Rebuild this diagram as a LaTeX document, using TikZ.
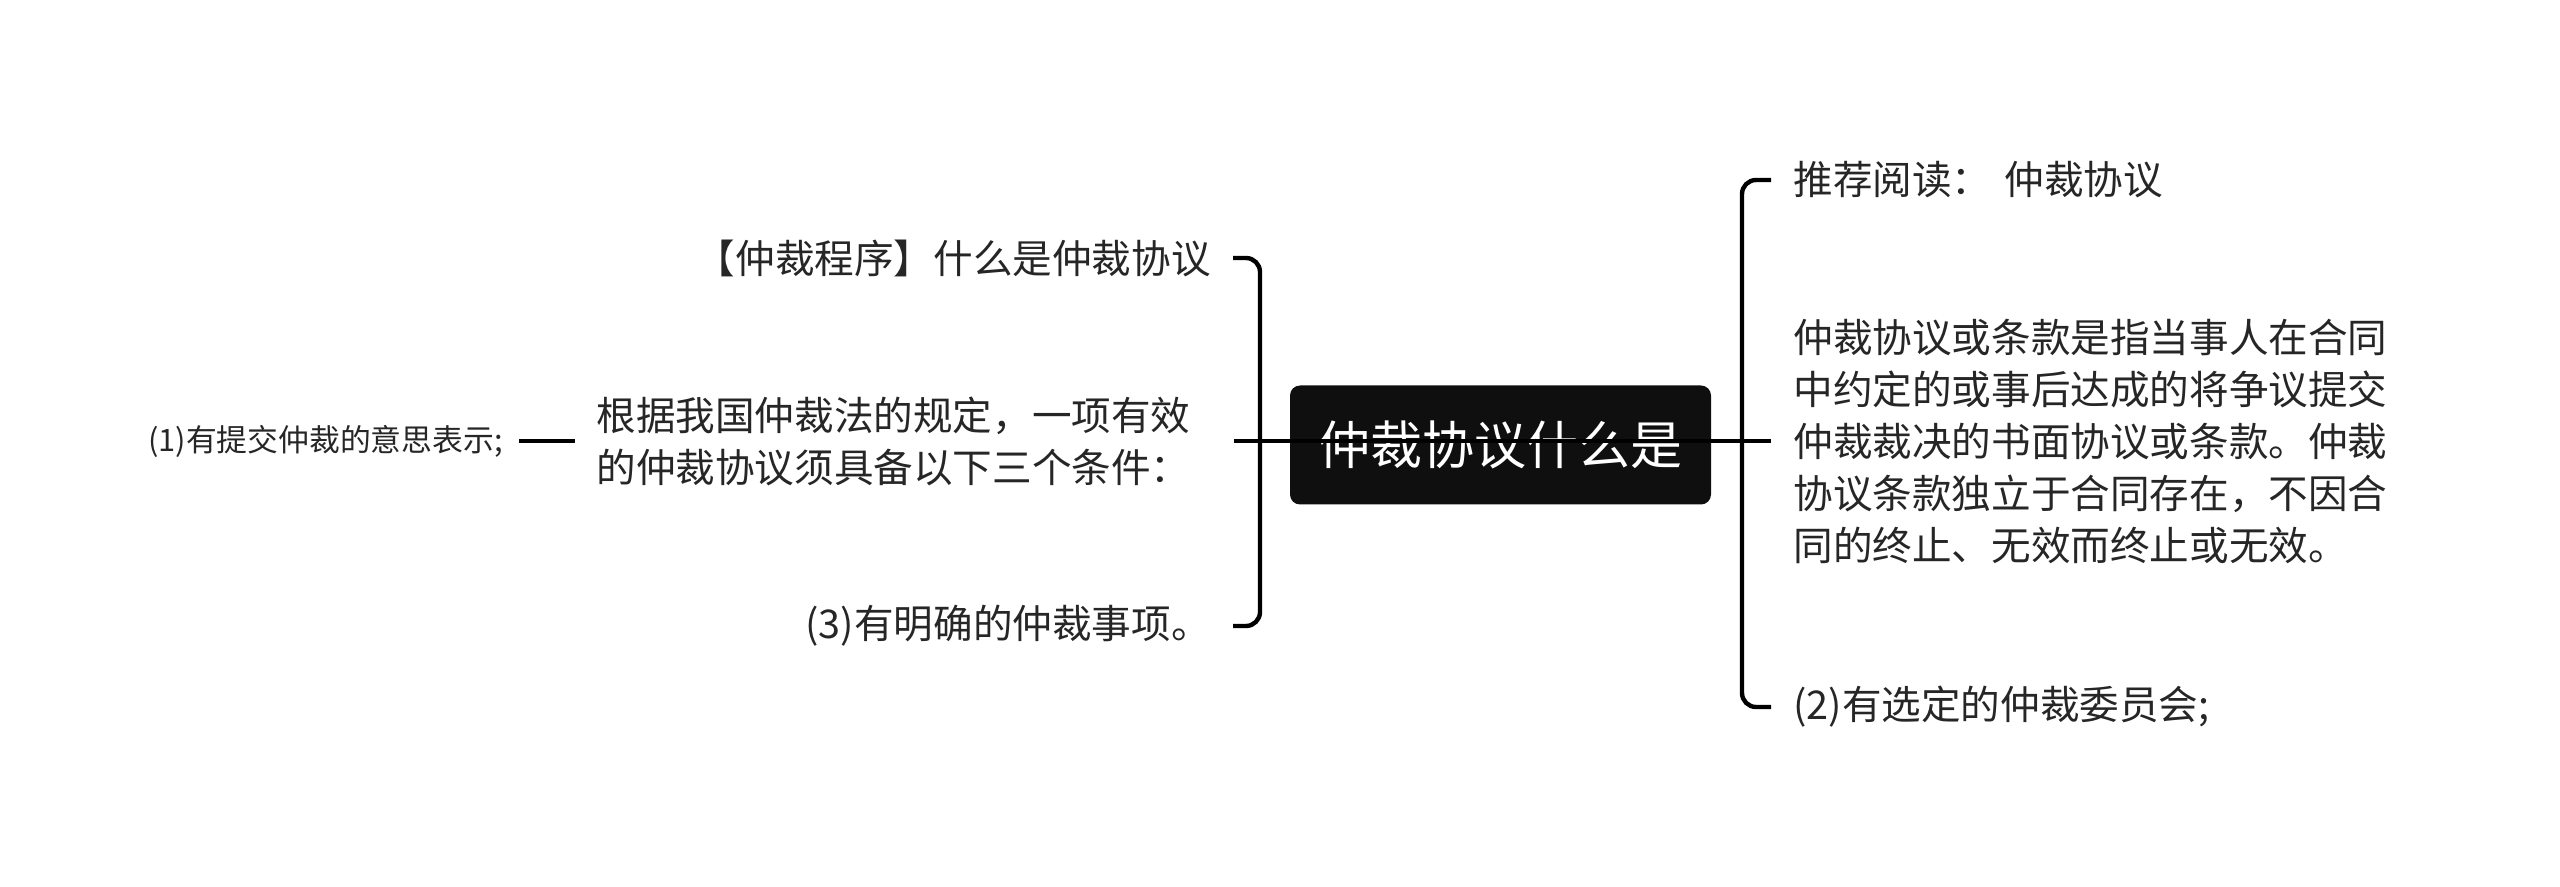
\documentclass[tikz,border=0pt]{standalone}
\usepackage{fontspec}
\setmainfont{Noto Sans CJK SC}
\usetikzlibrary{positioning}
\definecolor{inkgray}{HTML}{262626}
\definecolor{rootfill}{HTML}{0F0F0F}

\begin{document}
\begin{tikzpicture}[
    x=0.5pt, y=-0.5pt,
    topic/.style={inner sep=0pt, inner xsep=11pt, text=inkgray, font=\fontsize{19.8}{26}\selectfont, align=left},
    small/.style={inner sep=0pt, inner xsep=8pt, text=inkgray, font=\fontsize{15.4}{20}\selectfont},
    root/.style={rectangle, fill=rootfill, rounded corners=5pt, minimum width=210.5pt, minimum height=59.5pt, text=white, font=\fontsize{26}{30}\selectfont},
    link/.style={draw=black, line width=2.2pt},
    bracket/.style={link, rounded corners=7pt}
]
    \useasboundingbox (0,0) rectangle (2560,887);

    \node[root] (main) at (1500.5,445) {仲裁协议什么是};

    % left branch
    \node[topic, anchor=east] (proc) at (1233,258) {【仲裁程序】什么是仲裁协议};
    \node[topic, anchor=west, text width=308pt, inner xsep=10.5pt] (cond) at (575,441) {根据我国仲裁法的规定，一项有效\\的仲裁协议须具备以下三个条件：};
    \node[topic, anchor=east] (item3) at (1233,626) {(3)有明确的仲裁事项。};
    \node[small, anchor=east] (item1) at (519,441) {(1)有提交仲裁的意思表示;};

    % right branch
    \node[topic, anchor=west] (read) at (1771,180) {推荐阅读：\hspace{6.5pt}仲裁协议};
    \node[topic, anchor=west] (defn) at (1771,441) {仲裁协议或条款是指当事人在合同\\中约定的或事后达成的将争议提交\\仲裁裁决的书面协议或条款。仲裁\\协议条款独立于合同存在，不因合\\同的终止、无效而终止或无效。};
    \node[topic, anchor=west] (item2) at (1771,707) {(2)有选定的仲裁委员会;};

    \coordinate (ljoin) at (1260,441);
    \coordinate (rjoin) at (1742,441);

    \draw[bracket] (ljoin) |- (proc.east);
    \draw[bracket] (ljoin) |- (item3.east);
    \draw[bracket] (rjoin) |- (read.west);
    \draw[bracket] (rjoin) |- (item2.west);
    \draw[link] (item1.east) -- (cond.west);
    % main axis, over the root box
    \draw[link] (cond.east) -- (defn.west);
\end{tikzpicture}
\end{document}
